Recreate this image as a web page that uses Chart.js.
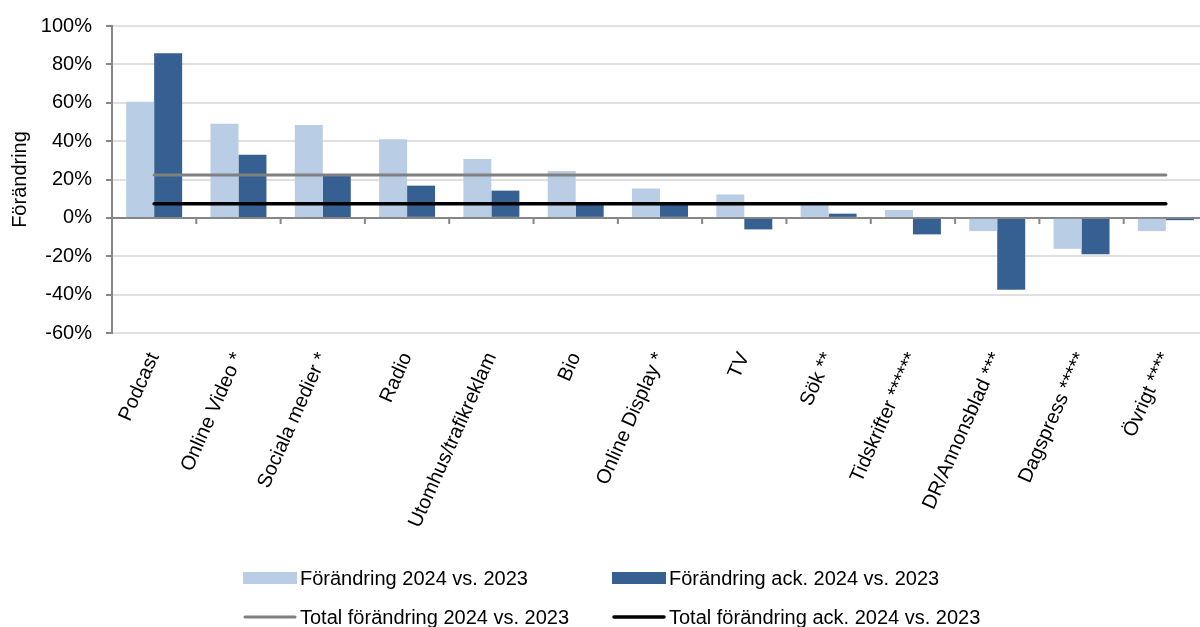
<!DOCTYPE html>
<html>
<head>
<meta charset="utf-8">
<script src="https://cdn.jsdelivr.net/npm/chart.js"></script>
<style>
  html, body { margin: 0; padding: 0; background: #fff; overflow: hidden; }
  #wrap { width: 1210px; height: 627px; }
</style>
</head>
<body>
<div id="wrap"><canvas id="chart" width="1210" height="627"></canvas></div>
<script>
// data
const categories = [
  "Podcast", "Online Video *", "Sociala medier *", "Radio", "Utomhus/trafikreklam",
  "Bio", "Online Display *", "TV", "Sök **", "Tidskrifter ******",
  "DR/Annonsblad ***", "Dagspress *****", "Övrigt ****"
];
const change2024 = [60.5, 49, 48.4, 41, 30.7, 24.4, 15.3, 12.2, 6.5, 4.1, -6.9, -16.1, -6.9];
const changeAck2024 = [85.8, 32.9, 22, 16.8, 14.2, 7, 7.5, -6, 2.2, -8.6, -37.4, -19, -1.2];
const totalChange2024 = [22.3, 22.3, 22.3, 22.3, 22.3, 22.3, 22.3, 22.3, 22.3, 22.3, 22.3, 22.3, 22.3];
const totalChangeAck2024 = [7.4, 7.4, 7.4, 7.4, 7.4, 7.4, 7.4, 7.4, 7.4, 7.4, 7.4, 7.4, 7.4];
const yTicks = [-60, -40, -20, 0, 20, 40, 60, 80, 100];

const FONT = "'Liberation Sans', Arial, sans-serif";
const AXIS_GREY = "#868686";
const GRID_GREY = "#e0e0e0";

// small tick marks under the zero line, between categories
const zeroTicksPlugin = {
  id: "zeroTicks",
  afterDatasetsDraw: (chart) => {
    const { ctx, scales: { x, y } } = chart;
    const y0 = y.getPixelForValue(0);
    const n = categories.length;
    ctx.save();
    ctx.strokeStyle = AXIS_GREY;
    ctx.lineWidth = 2;
    ctx.beginPath();
    for (let i = 1; i <= n; i++) {
      const xPos = i < n
        ? (x.getPixelForValue(i - 1) + x.getPixelForValue(i)) / 2
        : x.getPixelForValue(n - 1) + (x.getPixelForValue(n - 1) - x.getPixelForValue(n - 2)) / 2;
      ctx.moveTo(xPos, y0);
      ctx.lineTo(xPos, y0 + 6);
    }
    ctx.stroke();
    ctx.restore();
  },
};

// 2x2 legend at the bottom
const gridLegendPlugin = {
  id: "gridLegend",
  afterDraw: (chart) => {
    const { ctx } = chart;
    const cols = [243, 612];
    const rows = [578, 617];
    ctx.save();
    ctx.font = "20px " + FONT;
    ctx.textBaseline = "middle";
    chart.data.datasets.forEach((ds, i) => {
      const cx = cols[i % 2];
      const cy = rows[Math.floor(i / 2)];
      if (ds.type === "line") {
        ctx.strokeStyle = ds.borderColor;
        ctx.lineWidth = ds.borderWidth;
        ctx.lineCap = "round";
        ctx.beginPath();
        ctx.moveTo(cx + 2, cy);
        ctx.lineTo(cx + 52, cy);
        ctx.stroke();
      } else {
        ctx.fillStyle = ds.backgroundColor;
        ctx.fillRect(cx, cy - 6, 54, 12);
      }
      ctx.fillStyle = "#000";
      ctx.fillText(ds.label, cx + 57, cy + 1);
    });
    ctx.restore();
  },
};

const data = {
  labels: categories,
  datasets: [
    {
      type: "bar",
      label: "Förändring 2024 vs. 2023",
      data: change2024,
      backgroundColor: "#b9cde5",
      categoryPercentage: 0.664,
      barPercentage: 1.0,
      order: 2,
    },
    {
      type: "bar",
      label: "Förändring ack. 2024 vs. 2023",
      data: changeAck2024,
      backgroundColor: "#376092",
      categoryPercentage: 0.664,
      barPercentage: 1.0,
      order: 2,
    },
    {
      type: "line",
      label: "Total förändring 2024 vs. 2023",
      data: totalChange2024,
      borderColor: "#808080",
      borderWidth: 3,
      borderCapStyle: "round",
      pointRadius: 0,
      order: 0,
    },
    {
      type: "line",
      label: "Total förändring ack. 2024 vs. 2023",
      data: totalChangeAck2024,
      borderColor: "#000000",
      borderWidth: 3.5,
      borderCapStyle: "round",
      pointRadius: 0,
      order: 0,
    },
  ],
};

new Chart(document.getElementById("chart").getContext("2d"), {
  type: "bar",
  data: data,
  plugins: [zeroTicksPlugin, gridLegendPlugin],
  options: {
    responsive: false,
    animation: false,
    events: [],
    layout: { padding: { top: 22, right: 2, left: 0, bottom: 0 } },
    plugins: {
      legend: { display: false },
      tooltip: { enabled: false },
    },
    scales: {
      x: {
        offset: true,
        grid: { display: false },
        border: { display: false },
        ticks: {
          color: "#000",
          font: { family: FONT, size: 20 },
          minRotation: 66,
          maxRotation: 66,
          padding: 8,
          autoSkip: false,
        },
        afterFit: (scale) => { scale.height = 627 - 333; },
      },
      y: {
        min: -60,
        max: 100,
        afterBuildTicks: (scale) => { scale.ticks = yTicks.map((v) => ({ value: v })); },
        border: { display: true, color: AXIS_GREY, width: 2 },
        grid: {
          color: (c) => (c.tick && c.tick.value === 0 ? AXIS_GREY : GRID_GREY),
          lineWidth: 2,
          tickColor: AXIS_GREY,
          tickLength: 6,
        },
        ticks: {
          color: "#000",
          font: { family: FONT, size: 20 },
          padding: 14,
          callback: (v) => v + "%",
        },
        title: {
          display: true,
          text: "Förändring",
          color: "#000",
          font: { family: FONT, size: 20 },
          padding: { top: 8 },
        },
        afterFit: (scale) => { scale.width = 112; },
      },
    },
  },
});
</script>
</body>
</html>
